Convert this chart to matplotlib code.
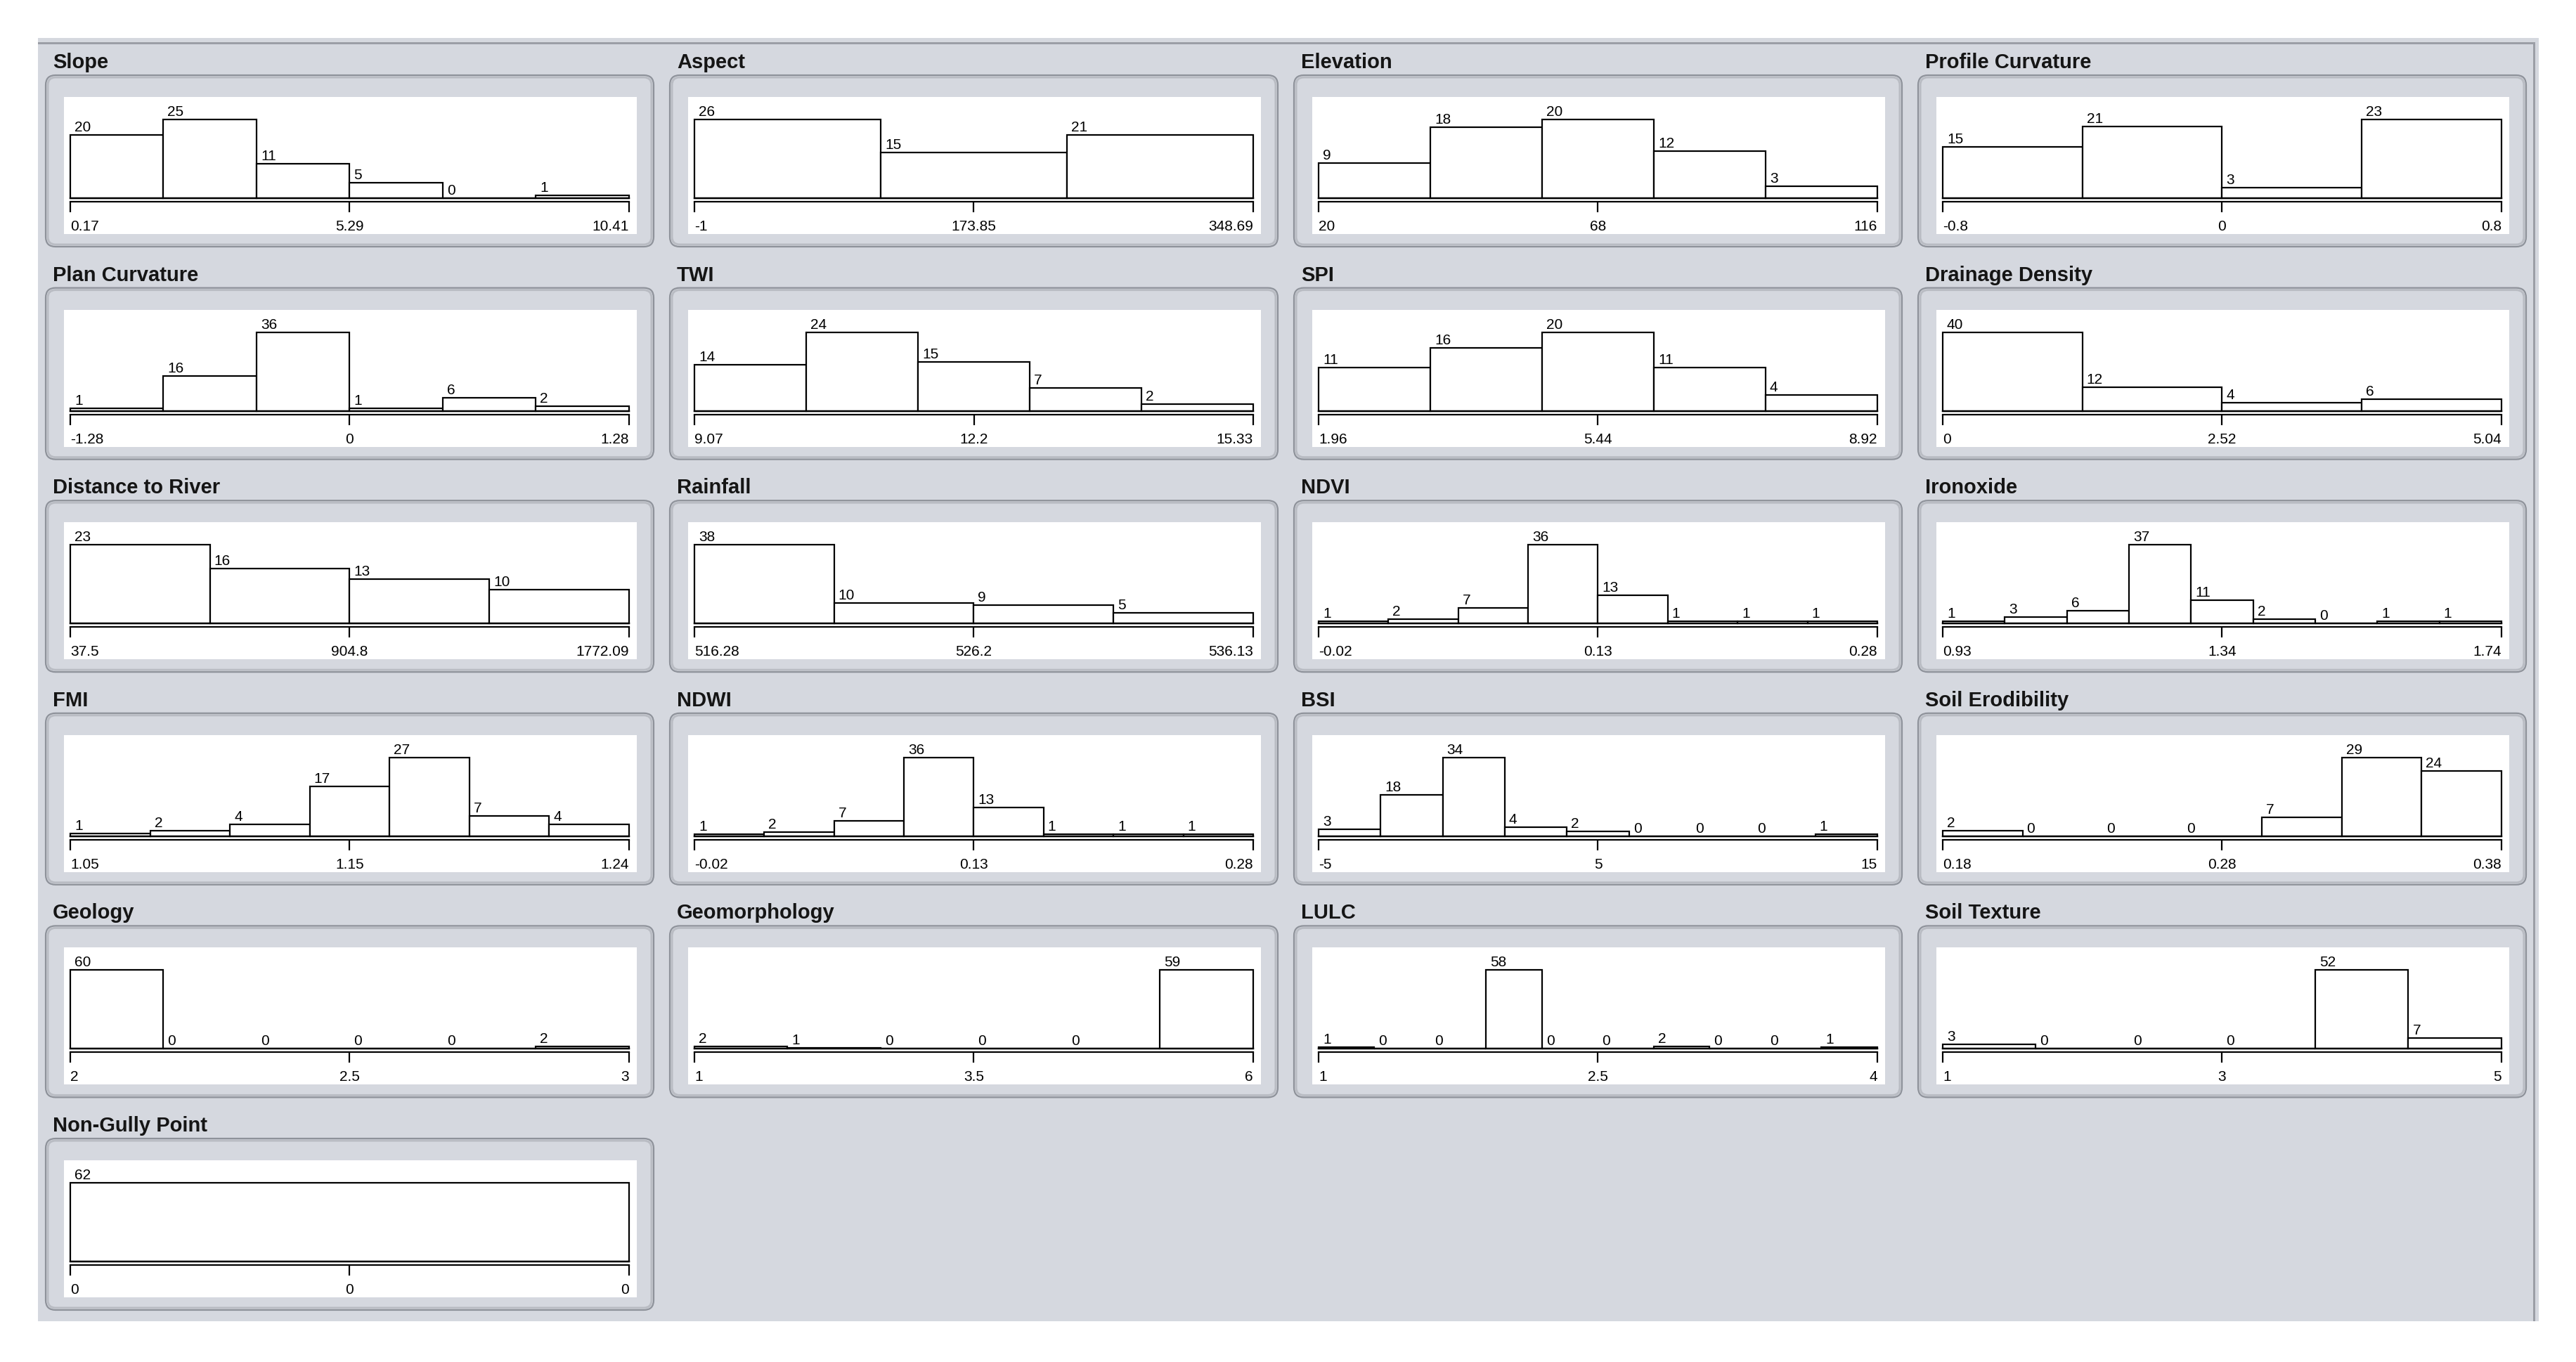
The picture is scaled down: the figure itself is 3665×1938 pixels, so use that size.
"""
Frequency histograms of the gully conditioning factors,
laid out as a 4-column panel sheet (one small histogram per factor).
"""

import numpy as np
import matplotlib
matplotlib.use('Agg')
import matplotlib.pyplot as plt
from matplotlib.patches import FancyBboxPatch, Rectangle
from matplotlib.transforms import IdentityTransform

# Canvas
W, H = 3666, 1938
DPI = 100
BG = '#d5d8df'
EDGE = '#8e929a'

plt.rcParams['font.family'] = ['Liberation Sans', 'DejaVu Sans']

# Factor names (panel order: row by row, 4 per row)
titles = ['Slope', 'Aspect', 'Elevation', 'Profile Curvature',
          'Plan Curvature', 'TWI', 'SPI', 'Drainage Density',
          'Distance to River', 'Rainfall', 'NDVI', 'Ironoxide',
          'FMI', 'NDWI', 'BSI', 'Soil Erodibility',
          'Geology', 'Geomorphology', 'LULC', 'Soil Texture',
          'Non-Gully Point']

# Bin counts per factor
slope = [20, 25, 11, 5, 0, 1]
aspect = [26, 15, 21]
elevation = [9, 18, 20, 12, 3]
profile_curv = [15, 21, 3, 23]
plan_curv = [1, 16, 36, 1, 6, 2]
twi = [14, 24, 15, 7, 2]
spi = [11, 16, 20, 11, 4]
drainage = [40, 12, 4, 6]
dist_river = [23, 16, 13, 10]
rainfall = [38, 10, 9, 5]
ndvi = [1, 2, 7, 36, 13, 1, 1, 1]
ironoxide = [1, 3, 6, 37, 11, 2, 0, 1, 1]
fmi = [1, 2, 4, 17, 27, 7, 4]
ndwi = [1, 2, 7, 36, 13, 1, 1, 1]
bsi = [3, 18, 34, 4, 2, 0, 0, 0, 1]
soil_erod = [2, 0, 0, 0, 7, 29, 24]
geology = [60, 0, 0, 0, 0, 2]
geomorph = [2, 1, 0, 0, 0, 59]
lulc = [1, 0, 0, 58, 0, 0, 2, 0, 0, 1]
soil_texture = [3, 0, 0, 0, 52, 7]
non_gully = [62]

counts = [slope, aspect, elevation, profile_curv,
          plan_curv, twi, spi, drainage,
          dist_river, rainfall, ndvi, ironoxide,
          fmi, ndwi, bsi, soil_erod,
          geology, geomorph, lulc, soil_texture,
          non_gully]

# Axis labels (min, mid, max)
axis_labels = [('0.17', '5.29', '10.41'), ('-1', '173.85', '348.69'),
               ('20', '68', '116'), ('-0.8', '0', '0.8'),
               ('-1.28', '0', '1.28'), ('9.07', '12.2', '15.33'),
               ('1.96', '5.44', '8.92'), ('0', '2.52', '5.04'),
               ('37.5', '904.8', '1772.09'), ('516.28', '526.2', '536.13'),
               ('-0.02', '0.13', '0.28'), ('0.93', '1.34', '1.74'),
               ('1.05', '1.15', '1.24'), ('-0.02', '0.13', '0.28'),
               ('-5', '5', '15'), ('0.18', '0.28', '0.38'),
               ('2', '2.5', '3'), ('1', '3.5', '6'),
               ('1', '2.5', '4'), ('1', '3', '5'),
               ('0', '0', '0')]

# Layout (pixels, top-left origin)
COL_X0, COL_STEP = 65, 888
ROW_Y0, ROW_STEP = 107, 302.6
BOX_W, BOX_H = 865, 244
PX = 72.0 / DPI  # points per pixel


def disp(x, y):
    """pixel (top-left origin) -> display coords"""
    return x, H - y


def add_panel_frame(fig, bx, by, title):
    """Rounded bevel box, white plot area and title"""
    ident = IdentityTransform()
    x0, y0 = disp(bx, by + BOX_H)
    fig.add_artist(FancyBboxPatch((x0, y0), BOX_W, BOX_H,
                                  boxstyle='round,pad=0,rounding_size=14',
                                  transform=ident, facecolor=BG,
                                  edgecolor=EDGE, lw=2.2 * PX, zorder=1))
    fig.add_artist(FancyBboxPatch((x0 + 3, y0 + 3), BOX_W - 6, BOX_H - 6,
                                  boxstyle='round,pad=0,rounding_size=11',
                                  transform=ident, facecolor='none',
                                  edgecolor='#b9bcc3', lw=3 * PX, zorder=1))
    wx, wy = disp(bx + 26, by + 226)
    fig.add_artist(Rectangle((wx, wy), BOX_W - 50, 195, transform=ident,
                             facecolor='white', edgecolor='none', zorder=2))
    tx, ty = disp(bx + 10, by - 10)
    fig.text(tx, ty, title, transform=ident, fontsize=21, fontweight='bold',
             color='#151515', ha='left', va='baseline')


def draw_histogram(fig, bx, by, cnt, labels):
    n = len(cnt)
    left, right = bx + 35, bx + 830
    base, top = by + 175, by + 63
    ax = fig.add_axes([left / W, 1 - base / H, (right - left) / W, (base - top) / H])
    ax.set_zorder(3)
    ax.patch.set_visible(False)

    ax.bar(np.arange(n), cnt, width=1, align='edge', facecolor='white',
           edgecolor='black', lw=2.2 * PX, clip_on=False)
    ax.axhline(0, color='black', lw=2.4 * PX, clip_on=False)
    for i, c in enumerate(cnt):
        ax.annotate(str(c), xy=(i, c), xytext=(6 * PX, 5 * PX),
                    textcoords='offset points', ha='left', va='baseline',
                    fontsize=15, annotation_clip=False)

    ax.set_xlim(0, n)
    ax.set_ylim(0, max(cnt))
    ax.set_yticks([])
    for side in ['top', 'left', 'right']:
        ax.spines[side].set_visible(False)
    ax.spines['bottom'].set_position(('outward', 5 * PX))
    ax.spines['bottom'].set_linewidth(2.2 * PX)

    ax.set_xticks([0, n / 2, n])
    ax.set_xticklabels(labels)
    ax.tick_params(axis='x', direction='out', length=15 * PX, width=2.2 * PX,
                   pad=11 * PX, labelsize=15)
    tl = ax.get_xticklabels()
    tl[0].set_ha('left')
    tl[-1].set_ha('right')
    return ax


def main():
    fig = plt.figure(figsize=(W / DPI, H / DPI), dpi=DPI)
    fig.patch.set_facecolor('white')
    ident = IdentityTransform()

    # gray sheet with its darker top/right border
    x0, y0 = disp(54, 1880)
    fig.add_artist(Rectangle((x0, y0), 3612 - 54, 1880 - 54, transform=ident,
                             facecolor=BG, edgecolor='none', zorder=0))
    fig.add_artist(Rectangle(disp(54, 63), 3607 - 54, 3, transform=ident,
                             facecolor='#9b9ea6', edgecolor='none', zorder=0))
    fig.add_artist(Rectangle(disp(3604, 1880), 3, 1880 - 60, transform=ident,
                             facecolor='#9b9ea6', edgecolor='none', zorder=0))

    for k, (title, cnt, labels) in enumerate(zip(titles, counts, axis_labels)):
        r, c = divmod(k, 4)
        bx = COL_X0 + c * COL_STEP
        by = ROW_Y0 + r * ROW_STEP
        add_panel_frame(fig, bx, by, title)
        draw_histogram(fig, bx, by, cnt, labels)

    fig.savefig('out.png', dpi=DPI, facecolor='white')


if __name__ == "__main__":
    main()
